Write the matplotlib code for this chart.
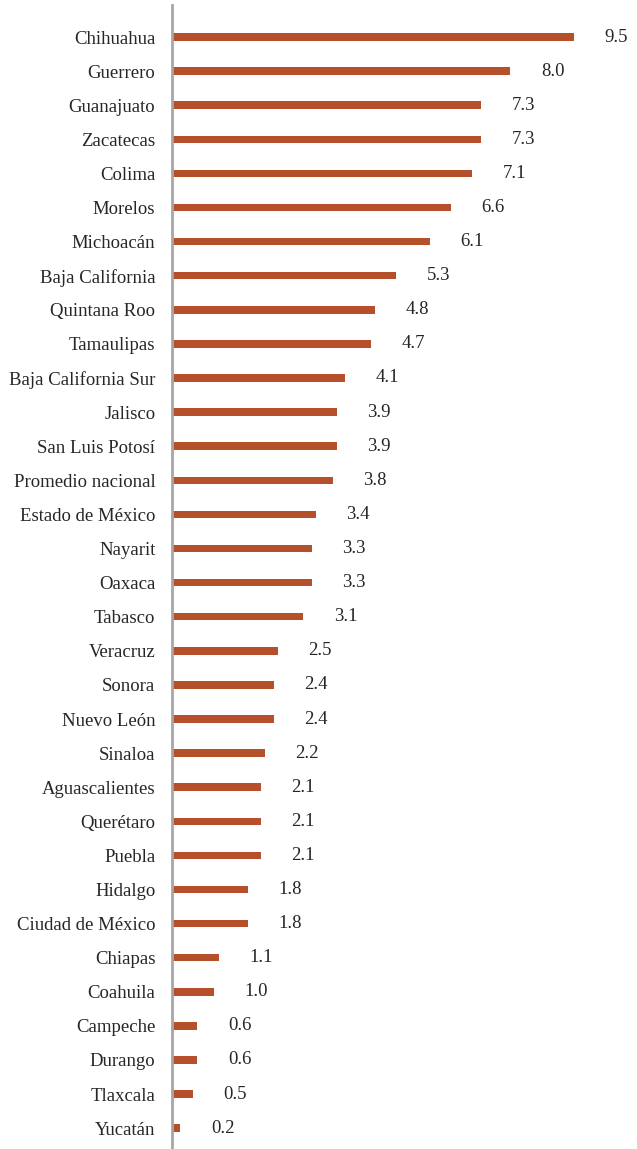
import matplotlib.pyplot as plt

# Datos por entidad (de mayor a menor)
estados = ['Chihuahua', 'Guerrero', 'Guanajuato', 'Zacatecas', 'Colima', 'Morelos',
           'Michoacán', 'Baja California', 'Quintana Roo', 'Tamaulipas',
           'Baja California Sur', 'Jalisco', 'San Luis Potosí', 'Promedio nacional',
           'Estado de México', 'Nayarit', 'Oaxaca', 'Tabasco', 'Veracruz', 'Sonora',
           'Nuevo León', 'Sinaloa', 'Aguascalientes', 'Querétaro', 'Puebla', 'Hidalgo',
           'Ciudad de México', 'Chiapas', 'Coahuila', 'Campeche', 'Durango',
           'Tlaxcala', 'Yucatán']
valores = [9.5, 8.0, 7.3, 7.3, 7.1, 6.6, 6.1, 5.3, 4.8, 4.7, 4.1, 3.9, 3.9, 3.8,
           3.4, 3.3, 3.3, 3.1, 2.5, 2.4, 2.4, 2.2, 2.1, 2.1, 2.1, 1.8, 1.8, 1.1,
           1.0, 0.6, 0.6, 0.5, 0.2]

color_barra = '#B5502B'

fig = plt.figure(figsize=(6.37, 11.49), dpi=100)
# ejes ubicados a mano para coincidir con la imagen
ax = fig.add_axes([172 / 637, 0.0, 1 - 172 / 637, 1 - 5 / 1149])

pos = list(range(len(estados)))
ax.barh(pos, valores, height=0.22, color=color_barra)

for p, v in zip(pos, valores):
    ax.annotate(f'{v:.1f}', xy=(v, p), xytext=(22, 0), textcoords='offset points',
                ha='left', va='center', fontsize=13.5, family='Liberation Serif',
                color='#262626')

ax.set_yticks(pos)
ax.set_yticklabels(estados, fontsize=13.5, family='Liberation Serif', color='#262626')
ax.tick_params(axis='y', length=0, pad=12)
ax.set_xticks([])
ax.set_xlim(0, (637 - 172) / 42.3)
ax.set_ylim((1149 - 37) / 34.1, (5 - 37) / 34.1)

for lado in ['top', 'right', 'bottom']:
    ax.spines[lado].set_visible(False)
ax.spines['left'].set_color('#A6A6A6')
ax.spines['left'].set_linewidth(2)

fig.savefig('out.png', dpi=100)
